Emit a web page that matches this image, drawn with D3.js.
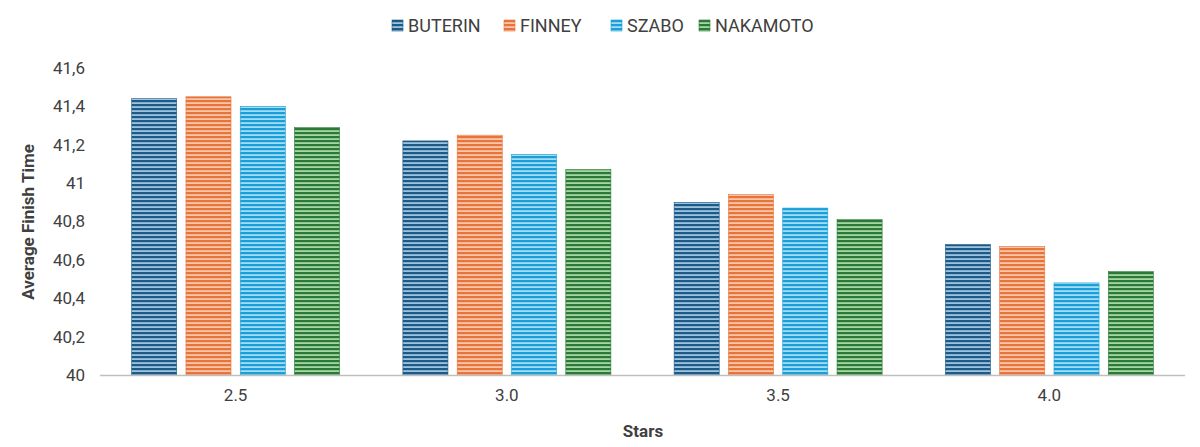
<!DOCTYPE html><html><head><meta charset="utf-8"><script src="https://cdn.jsdelivr.net/npm/d3@7"></script>
<style>body{margin:0;background:#fff}text{font-family:Roboto,"Open Sans",sans-serif}</style></head><body><svg width="1200" height="447"></svg>
<script>
const categories=["2.5","3.0","3.5","4.0"];
const seriesNames=["BUTERIN","FINNEY","SZABO","NAKAMOTO"];
const buterin=[41.44,41.22,40.90,40.68];
const finney=[41.45,41.25,40.94,40.67];
const szabo=[41.40,41.15,40.87,40.48];
const nakamoto=[41.29,41.07,40.81,40.54];
const yTicks=[40,40.2,40.4,40.6,40.8,41,41.2,41.4,41.6];
const values=[buterin,finney,szabo,nakamoto];
const dark=["#1d5a86","#e8743b","#1a9fd8","#2a7a36"];
const light=["#9cc3e0","#f8c6a8","#a3dcf5","#a6d6a6"];
const svg=d3.select("svg");
const defs=svg.append("defs");
dark.forEach((c,i)=>{const p=defs.append("pattern").attr("id","p"+i).attr("width",4).attr("height",4).attr("patternUnits","userSpaceOnUse");
p.append("rect").attr("width",4).attr("height",4).attr("fill",light[i]);
p.append("rect").attr("width",4).attr("height",2.2).attr("fill",c);});
const x=d3.scaleBand().domain(categories).range([100,1185]);
const x1=d3.scaleBand().domain(seriesNames).range([x.bandwidth()/2-104,x.bandwidth()/2+104]).paddingInner(0.17).paddingOuter(0);
const y=d3.scaleLinear().domain([40,41.6]).range([375,68]);
const fmt=d=>String(+d.toFixed(1)).replace(".",",");
const ya=svg.append("g").attr("transform","translate(88,0)").call(d3.axisLeft(y).tickValues(yTicks).tickFormat(fmt).tickSize(0));
ya.select(".domain").remove();ya.selectAll("text").attr("font-size",17).attr("fill","#404040");
categories.forEach((c,ci)=>{values.forEach((v,si)=>{
svg.append("rect").attr("x",x(c)+x1(seriesNames[si])).attr("width",x1.bandwidth()).attr("y",y(v[ci])).attr("height",y(40)-y(v[ci])).attr("fill","url(#p"+si+")").attr("stroke",dark[si]).attr("stroke-width",0.6);});});
svg.append("line").attr("x1",100).attr("x2",1185).attr("y1",375.5).attr("y2",375.5).attr("stroke","#bfbfbf").attr("stroke-width",1.5);
const xa=svg.append("g").attr("transform","translate(0,376)").call(d3.axisBottom(x).tickSize(0));
xa.select(".domain").remove();xa.selectAll("text").attr("font-size",17).attr("fill","#404040").attr("dy","1.3em");
svg.append("text").attr("x",643).attr("y",437).attr("text-anchor","middle").attr("font-size",17).attr("font-weight","bold").attr("fill","#404040").text("Stars");
svg.append("text").attr("transform","translate(34,222) rotate(-90)").attr("text-anchor","middle").attr("font-size",17).attr("font-weight","bold").attr("fill","#404040").text("Average Finish Time");
const lx=[392,504,611,699];
seriesNames.forEach((s,i)=>{svg.append("rect").attr("x",lx[i]).attr("y",20).attr("width",11).attr("height",11).attr("fill","url(#p"+i+")").attr("stroke",dark[i]).attr("stroke-width",0.6);
svg.append("text").attr("x",lx[i]+16).attr("y",32).attr("font-size",18).attr("fill","#404040").text(s);});
</script></body></html>
